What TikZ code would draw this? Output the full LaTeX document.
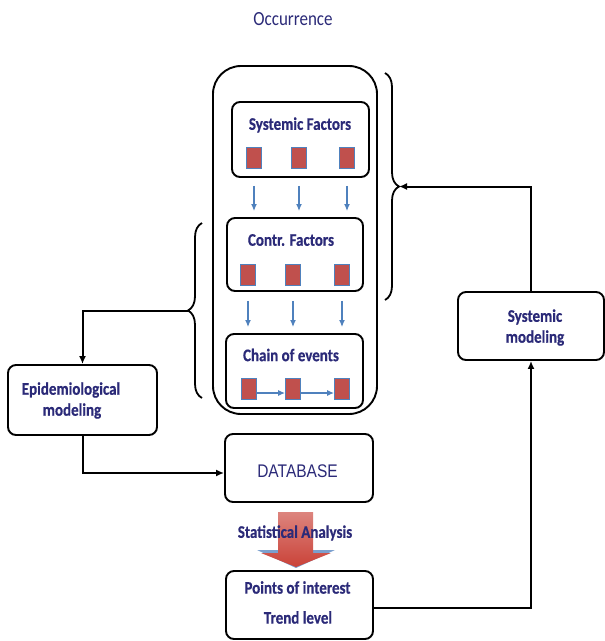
\documentclass[tikz,border=0pt]{standalone}
\usepackage{graphicx}
\usepackage{fontspec}
\setmainfont{Carlito}
\newfontfamily\lblfont[BoldFeatures={FakeBold=0.6}]{Carlito}
\newfontfamily\arialf{Liberation Sans}
\usetikzlibrary{arrows.meta,decorations.pathreplacing,calc}
\definecolor{navy}{RGB}{43,42,120}
\definecolor{sqred}{RGB}{192,80,77}
\definecolor{sqblue}{RGB}{79,129,189}
\definecolor{bigred}{RGB}{202,66,56}
\newcommand{\vtxt}[1]{\scalebox{1}[1.18]{#1}}
\begin{document}
\begin{tikzpicture}[x=1pt,y=-1pt,
  box/.style={draw=black, line width=1.9pt, rounded corners=8pt, inner sep=0pt},
  lbl/.style={text=navy, font=\lblfont\fontsize{15}{21}\selectfont\bfseries, inner sep=0pt},
  sq/.style={fill=sqred, draw=sqblue, line width=0.8pt, minimum width=15pt, minimum height=21pt, inner sep=0pt},
  barrow/.style={draw=sqblue, line width=1.3pt, -{Latex[length=7pt,width=6pt]}},
  conn/.style={draw=black, line width=2pt, -{Latex[length=8pt,width=7pt]}},
  bracestyle/.style={decorate, decoration={brace, amplitude=14pt}, line width=1.8pt}
]
\useasboundingbox (0,0) rectangle (605,641);

% title
\node[text=navy, font=\fontsize{17}{19}\selectfont, inner sep=0pt] (occ) at (293,19) {\vtxt{Occurrence}};

% outer container
\node[box, rounded corners=28pt, minimum width=164pt, minimum height=348pt] (outer) at (295,240) {};

% inner boxes
\node[box, minimum width=137pt, minimum height=75pt] (sf) at (300.5,139.5) {};
\node[box, minimum width=136pt, minimum height=73pt] (cf) at (295,254.5) {};
\node[box, minimum width=137pt, minimum height=74pt] (ce) at (294.5,371) {};

\node[lbl] (sft) at (300,125) {\vtxt{Systemic Factors}};
\node[lbl] (cft) at (291,240) {\vtxt{Contr. Factors}};
\node[lbl] (cet) at (291,355) {\vtxt{Chain of events}};

% squares
\node[sq] (s1) at (254,158) {};
\node[sq] (s2) at (299,158) {};
\node[sq] (s3) at (347,158) {};
\node[sq] (c1) at (248,275) {};
\node[sq] (c2) at (293,275) {};
\node[sq] (c3) at (342,275) {};
\node[sq] (e1) at (249,389) {};
\node[sq] (e2) at (293,389) {};
\node[sq] (e3) at (342,389) {};

% blue arrows
\foreach \s in {s1,s2,s3}
  \draw[barrow] ($(\s |- sf.south)+(0,8)$) -- ($(\s |- cf.north)+(0,-6)$);
\foreach \s in {c1,c2,c3}
  \draw[barrow] ($(\s |- cf.south)+(0,9)$) -- ($(\s |- ce.north)+(0,-6)$);
\draw[barrow] ($(e1.east)+(0,4)$) -- ($(e2.west)+(0,4)$);
\draw[barrow] ($(e2.east)+(0,4)$) -- ($(e3.west)+(0,4)$);

% braces
\draw[bracestyle] (385,73) -- (385,300);
\coordinate (rbtip) at (399,186.5);
\draw[bracestyle] (202,398) -- (202,223);
\coordinate (lbtip) at (188,310.5);

% side boxes
\node[box, minimum width=149pt, minimum height=70pt] (epi) at (82.5,400) {};
\node[lbl] (epit1) at (71,390) {\vtxt{Epidemiological}};
\node[lbl] (epit2) at (72,411) {\vtxt{modeling}};
\node[box, minimum width=146pt, minimum height=68pt] (sm) at (531,326) {};
\node[lbl] (smt1) at (535,317) {\vtxt{Systemic}};
\node[lbl] (smt2) at (535,338) {\vtxt{modeling}};

% database
\node[box, minimum width=148pt, minimum height=68pt] (db) at (299,468) {};
\node[text=navy, font=\arialf\fontsize{15.5}{18}\selectfont, inner sep=0pt] (dbt) at (297.5,471) {\vtxt{DATABASE}};

% statistical analysis arrow
\fill[sqblue!75] (257,550) -- (335,550) -- (296,568) -- cycle;
\shade[top color=bigred!65, bottom color=bigred]
  (278,512) -- (313,512) -- (313,553) -- (331,553) -- (296,567) -- (261,553) -- (278,553) -- cycle;
\node[lbl] (sat) at (295,533) {\vtxt{Statistical Analysis}};

% points of interest
\node[box, minimum width=147pt, minimum height=68pt] (poi) at (299.5,605) {};
\node[lbl] (poi1) at (297.5,587.5) {\vtxt{Points of interest}};
\node[lbl] (poi2) at (298,617.5) {\vtxt{Trend level}};

% connectors
\draw[conn] (lbtip) -| (epi.north);
\draw[conn] (epi.south) |- ($(db.west)+(0,5)$);
\draw[conn] ($(poi.east)+(0,3)$) -| (sm.south);
\draw[conn] (sm.north) |- (rbtip);
\end{tikzpicture}
\end{document}
